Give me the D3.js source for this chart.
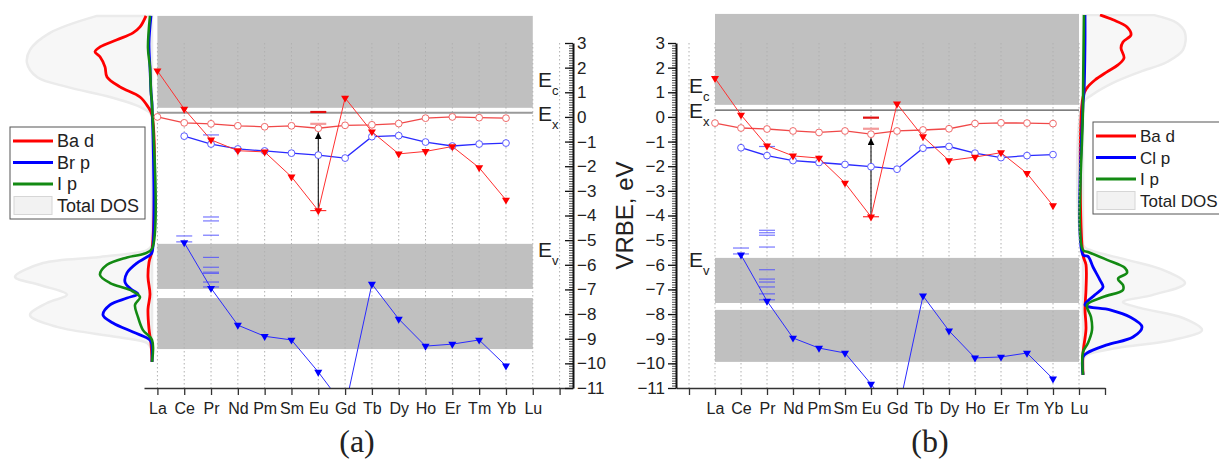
<!DOCTYPE html>
<html>
<head>
<meta charset="utf-8">
<script src="https://cdn.jsdelivr.net/npm/d3@7"></script>
<style>
  body { margin: 0; background: #fff; }
  svg { font-family: Arial, "Liberation Sans", sans-serif; }
</style>
</head>
<body>
<svg id="chart" width="1219" height="462"></svg>
<script>
// ---- data ----
const lanthanides = ['La','Ce','Pr','Nd','Pm','Sm','Eu','Gd','Tb','Dy','Ho','Er','Tm','Yb','Lu'];

// panel (a) BaBrI
const ln2_4f_a = [1.87, 0.32, -0.93, -1.37, -1.42, -2.43, -3.80, 0.77, -0.60, -1.50, -1.40, -1.20, -2.06, -3.37, null];
const ln3_4f_a = [null, -5.10, -6.95, -8.45, -8.90, -9.05, -10.35, -11.8, -6.78, -8.20, -9.30, -9.22, -9.05, -10.10, null];
const ln2_5d_a = [0.00, -0.24, -0.28, -0.36, -0.40, -0.36, -0.46, -0.34, -0.32, -0.27, -0.05, 0.00, -0.03, -0.05, null];
const ln3_5d_a = [null, -0.78, -1.10, -1.30, -1.38, -1.47, -1.55, -1.67, -0.80, -0.76, -1.02, -1.18, -1.10, -1.06, null];
const ceLevels_a = [-4.83, -5.07];
const prLevels_a = [-0.73, -4.06, -4.22, -4.8, -5.7, -6.1, -6.3, -6.35, -6.7, -6.9];
const euLevels_a = { dark: 0.2, light: -0.28 };
const cband_a = [0.37, 4.1];
const vbands_a = [[-6.98, -5.15], [-9.42, -7.35]];
const exciton_a = 0.17;

// panel (b) BaClI
const ln2_4f_b = [1.57, 0.08, -1.17, -1.58, -1.67, -2.68, -4.05, 0.53, -0.80, -1.77, -1.63, -1.45, -2.29, -3.60, null];
const ln3_4f_b = [null, -5.60, -7.47, -8.97, -9.38, -9.58, -10.84, -12.2, -7.26, -8.68, -9.78, -9.74, -9.58, -10.63, null];
const ln2_5d_b = [-0.25, -0.45, -0.49, -0.57, -0.63, -0.57, -0.70, -0.57, -0.53, -0.48, -0.27, -0.24, -0.25, -0.27, null];
const ln3_5d_b = [null, -1.25, -1.57, -1.77, -1.85, -1.93, -2.02, -2.12, -1.27, -1.20, -1.47, -1.65, -1.57, -1.53, null];
const ceLevels_b = [-5.32, -5.56];
const prLevels_b = [-1.2, -4.6, -4.7, -4.8, -5.28, -6.2, -6.58, -6.7, -6.9, -7.18, -7.42];
const euLevels_b = { dark: -0.03, light: -0.48 };
const cband_b = [0.49, 4.18];
const vbands_b = [[-7.55, -5.72], [-9.94, -7.83]];
const exciton_b = 0.28;

// DOS [energy eV, density a.u.]
const dosBa_a = [[4.1,6],[3.65,12],[3.41,19],[3.13,35],[2.84,52],[2.64,57],[2.44,52],[2.03,47],[1.62,45],[1.22,32],[0.81,12],[0.41,4],[0.08,0],[-5.4,0],[-5.9,3],[-6.5,4],[-7.2,2],[-7.8,4],[-8.6,3],[-9.2,1],[-9.94,0]];
const dosX_a = [[4.1,1],[3.0,3],[2.0,2],[1.0,1],[0.5,0],[-5.5,0],[-5.6,2],[-5.93,15],[-6.33,25],[-6.7,27],[-7.02,20],[-7.18,14],[-7.35,25],[-7.63,42],[-8.04,49],[-8.36,39],[-8.73,19],[-9.05,2],[-9.25,0],[-9.94,0]];
const dosI_a = [[4.1,2],[2.8,4],[2.0,2],[1.0,1],[0.5,0],[-5.35,0],[-5.55,8],[-5.7,25],[-6.0,45],[-6.41,52],[-6.74,42],[-7.02,22],[-7.31,12],[-7.63,17],[-8.12,14],[-8.65,9],[-9.05,0],[-9.94,0]];
const dosTot_a = [[4.1,55],[3.41,102],[2.72,122],[2.19,125],[1.62,115],[1.22,85],[0.81,42],[0.41,12],[0.16,2],[0.0,0],[-5.2,0],[-5.40,5],[-5.68,52],[-5.93,109],[-6.49,137],[-6.82,112],[-7.22,85],[-7.55,105],[-8.04,122],[-8.52,95],[-8.93,35],[-9.17,5],[-9.46,0]];

const dosBa_b = [[4.14,17],[3.94,30],[3.65,44],[3.33,48],[3.04,40],[2.80,38],[2.39,41],[2.11,35],[1.83,24],[1.50,12],[1.18,4],[0.81,0],[-5.6,0],[-6.0,3],[-7.0,3],[-7.8,2],[-8.6,3],[-9.6,0],[-10.47,0]];
const dosX_b = [[4.14,2],[3.0,2],[1.0,1],[0.5,0],[-5.6,0],[-5.66,5],[-6.09,10],[-6.62,17],[-6.90,20],[-7.22,12],[-7.63,2],[-7.83,27],[-8.12,47],[-8.52,59],[-8.93,50],[-9.25,24],[-9.58,4],[-9.74,0],[-10.47,0]];
const dosI_b = [[4.14,1],[0.5,0],[-5.4,0],[-5.48,5],[-5.8,24],[-6.13,42],[-6.33,44],[-6.57,35],[-6.82,40],[-7.02,40],[-7.31,20],[-7.63,4],[-8.12,8],[-8.65,9],[-9.17,5],[-9.54,0],[-10.47,0]];
const dosTot_b = [[4.14,70],[3.81,94],[3.41,102],[2.72,100],[2.23,84],[1.83,57],[1.38,30],[0.89,9],[0.57,0],[-5.2,0],[-5.40,7],[-5.80,44],[-6.21,80],[-6.74,102],[-7.22,70],[-7.51,40],[-7.75,57],[-8.16,100],[-8.65,119],[-9.05,90],[-9.38,34],[-9.66,4],[-9.86,0]];

const legendA = ['Ba d', 'Br p', 'I p', 'Total DOS'];
const legendB = ['Ba d', 'Cl p', 'I p', 'Total DOS'];
const dosColors = ['#ff0000', '#0000ff', '#138a13'];

// ---- drawing ----
const svg = d3.select('#chart');
const yScale = d3.scaleLinear().domain([-11, 3]).range([388, 43]);
const majorTicks = d3.range(-11, 4);
const minorTicks = d3.range(-110, 31).map(v => v / 10);

const defs = svg.append('defs');
defs.append('marker')
    .attr('id', 'arrow')
    .attr('viewBox', '0 0 10 10')
    .attr('refX', 10).attr('refY', 5)
    .attr('markerWidth', 7).attr('markerHeight', 7)
    .attr('markerUnits', 'userSpaceOnUse')
    .attr('orient', 'auto')
  .append('path')
    .attr('d', 'M0,0 L10,5 L0,10 z')
    .attr('fill', '#000');

const vrbePanel = (g, p) => {
  const x = p.x;
  const clipId = 'clip-' + p.id;
  defs.append('clipPath').attr('id', clipId)
    .append('rect')
      .attr('x', x.range()[0]).attr('y', 0)
      .attr('width', x.range()[1] - x.range()[0]).attr('height', yScale(-11));

  // bands
  const bandG = g.append('g');
  bandG.append('rect')
      .attr('x', x(0)).attr('width', x(14) - x(0))
      .attr('y', yScale(p.cband[1])).attr('height', yScale(p.cband[0]) - yScale(p.cband[1]))
      .attr('fill', '#c0c0c0');
  bandG.selectAll('.vb').data(p.vbands).enter().append('rect')
      .attr('x', x(0)).attr('width', x(14) - x(0))
      .attr('y', d => yScale(d[1])).attr('height', d => yScale(d[0]) - yScale(d[1]))
      .attr('fill', '#c0c0c0');

  // dotted grid
  g.selectAll('.grid').data(p.gridTicks).enter().append('line')
      .attr('x1', d => x(d)).attr('x2', d => x(d))
      .attr('y1', yScale(3)).attr('y2', yScale(-11))
      .attr('stroke', '#b0b0b0').attr('stroke-width', 1)
      .attr('stroke-dasharray', '1.5,2.5');

  // exciton line
  g.append('line')
      .attr('x1', x(0)).attr('x2', x(14))
      .attr('y1', yScale(p.exciton)).attr('y2', yScale(p.exciton))
      .attr('stroke', p.excitonColor).attr('stroke-width', p.excitonWidth);

  const plot = g.append('g').attr('clip-path', `url(#${clipId})`);

  const toPts = arr => arr.map((v, i) => ({ i, v })).filter(d => d.v !== null);
  const lineGen = d3.line().x(d => x(d.i)).y(d => yScale(d.v));

  // level dashes
  const dash = (vals, idx, color, width, op) => {
    plot.selectAll(null).data(vals).enter().append('line')
        .attr('x1', x(idx) - 8).attr('x2', x(idx) + 8)
        .attr('y1', d => yScale(d)).attr('y2', d => yScale(d))
        .attr('stroke', color).attr('stroke-width', width).attr('opacity', op);
  };
  dash(p.ceLevels, 1, '#4a4aff', 1.2, 0.75);
  dash(p.prLevels, 2, '#4a4aff', 1.2, 0.75);
  dash([p.euLevels.dark], 6, '#e01010', 2.2, 1);
  dash([p.euLevels.light], 6, '#f49a9a', 2.2, 1);
  dash([p.ln2_4f[6]], 6, '#ff3030', 1.2, 1);

  // arrow Eu
  plot.append('line')
      .attr('x1', x(6)).attr('x2', x(6))
      .attr('y1', yScale(p.ln2_4f[6])).attr('y2', yScale(p.ln2_5d[6]) + 4)
      .attr('stroke', '#000').attr('stroke-width', 1)
      .attr('marker-end', 'url(#arrow)');

  const series = [
    { data: p.ln2_5d, color: '#f04848', width: 1.3, marker: 'circle', mcolor: '#f06a6a' },
    { data: p.ln3_5d, color: '#2a2aff', width: 1.3, marker: 'circle', mcolor: '#5a5aff' },
    { data: p.ln2_4f, color: '#ff3030', width: 1, marker: 'tri', mcolor: '#ff0000' },
    { data: p.ln3_4f, color: '#2a2aff', width: 1, marker: 'tri', mcolor: '#0000ff' }
  ];
  const tri = d3.symbol().type(d3.symbolTriangle).size(28);
  series.forEach(s => {
    const pts = toPts(s.data);
    plot.append('path')
        .attr('d', lineGen(pts))
        .attr('fill', 'none').attr('stroke', s.color).attr('stroke-width', s.width);
    if (s.marker === 'circle') {
      plot.selectAll(null).data(pts).enter().append('circle')
          .attr('cx', d => x(d.i)).attr('cy', d => yScale(d.v)).attr('r', 3.4)
          .attr('fill', '#fff').attr('stroke', s.mcolor).attr('stroke-width', 1);
    } else {
      plot.selectAll(null).data(pts).enter().append('path')
          .attr('d', tri)
          .attr('transform', d => `translate(${x(d.i)},${yScale(d.v)}) rotate(180)`)
          .attr('fill', s.mcolor);
    }
  });

  // x axis
  const xAxis = d3.axisBottom(x)
    .tickValues(p.xTicks)
    .tickFormat(i => lanthanides[i] || '')
    .tickSize(7).tickSizeOuter(0).tickPadding(8);
  const xg = g.append('g').attr('transform', `translate(0,${yScale(-11)})`).call(xAxis);
  xg.attr('font-family', null);
  xg.select('.domain').attr('stroke', '#333').attr('stroke-width', 1.5);
  xg.selectAll('.tick line').attr('stroke', '#333').attr('stroke-width', 1.3);
  xg.selectAll('text').attr('font-size', 16).attr('fill', '#222');

  // y axis
  const yx = p.yAxisRight ? x.range()[1] : x.range()[0];
  const mk = p.yAxisRight ? d3.axisRight : d3.axisLeft;
  const ySize = p.yAxisRight ? -8 : 8;
  const yMinor = mk(yScale).tickValues(minorTicks).tickFormat('').tickSize(ySize / 2).tickSizeOuter(0);
  const yMajor = mk(yScale).tickValues(majorTicks).tickSize(ySize).tickSizeOuter(0).tickPadding(p.yAxisRight ? 4 : 3);
  const ymg = g.append('g').attr('transform', `translate(${yx},0)`).call(yMinor);
  ymg.selectAll('.tick line').attr('stroke', '#222').attr('stroke-width', 0.8);
  ymg.select('.domain').remove();
  const yg = g.append('g').attr('transform', `translate(${yx},0)`).call(yMajor);
  yg.attr('font-family', null);
  yg.select('.domain').attr('stroke', '#111').attr('stroke-width', 2);
  yg.selectAll('.tick line').attr('stroke', '#111').attr('stroke-width', 1.3);
  yg.selectAll('text').attr('font-size', 17).attr('fill', '#222');

  // E labels
  p.eLabels.forEach(l => {
    const t = g.append('text').attr('x', p.eLabelX).attr('y', yScale(l.v))
        .attr('font-size', 21).attr('fill', '#222').text('E');
    t.append('tspan').attr('dy', 8).attr('font-size', 13).text(l.sub);
  });

  g.append('text')
      .attr('x', p.tagX).attr('y', 452)
      .attr('text-anchor', 'middle')
      .style('font-family', '"Liberation Serif", "Times New Roman", serif')
      .attr('font-size', 32).attr('fill', '#222')
      .text(p.tag);
};

const dosPanel = (g, p) => {
  const dx = p.dx;
  const clipId = 'dosclip-' + p.id;
  defs.append('clipPath').attr('id', clipId)
    .append('rect').attr('x', 0).attr('y', 14).attr('width', 1219).attr('height', 400);
  const dg = g.append('g').attr('clip-path', `url(#${clipId})`);
  const area = d3.area()
    .y(d => yScale(d[0])).x0(dx(0)).x1(d => dx(d[1]))
    .curve(d3.curveCatmullRom.alpha(0.5));
  dg.append('path').datum(p.total).attr('d', area)
      .attr('fill', '#f7f7f7').attr('stroke', '#ebebeb').attr('stroke-width', 2.5);
  const line = d3.line()
    .y(d => yScale(d[0])).x(d => dx(d[1]))
    .curve(d3.curveCatmullRom.alpha(0.5));
  p.curves.forEach((c, k) => {
    dg.append('path').datum(c).attr('d', line)
        .attr('fill', 'none').attr('stroke', dosColors[k]).attr('stroke-width', k === 2 ? 2.6 : 2.8);
  });

  // legend
  const lg = g.append('g').attr('transform', `translate(${p.legend.x},${p.legend.y})`);
  lg.append('rect').attr('width', p.legend.w).attr('height', 92)
      .attr('fill', '#fff').attr('stroke', '#555').attr('stroke-width', 1);
  p.labels.forEach((lab, k) => {
    const cy = 14 + k * 21.5;
    if (k < 3) {
      lg.append('line').attr('x1', 3).attr('x2', 43).attr('y1', cy).attr('y2', cy)
          .attr('stroke', dosColors[k]).attr('stroke-width', 3);
    } else {
      lg.append('rect').attr('x', 4).attr('y', cy - 9).attr('width', 38).attr('height', 18)
          .attr('fill', '#f2f2f2').attr('stroke', '#d6d6d6');
    }
    lg.append('text').attr('x', 47).attr('y', cy + 6)
        .attr('font-size', p.legend.fs).attr('fill', '#222').text(lab);
  });
};

const xA = d3.scaleLinear().domain([-0.5, 15.5]).range([144, 573]);
const xB = d3.scaleLinear().domain([-1.5, 15]).range([676, 1105]);

dosPanel(svg.append('g'), {
  id: 'a', dx: d3.scaleLinear().domain([0, 140]).range([152, 12]),
  total: dosTot_a, curves: [dosBa_a, dosX_a, dosI_a], labels: legendA,
  legend: { x: 10, y: 127, w: 135, fs: 18 }
});
dosPanel(svg.append('g'), {
  id: 'b', dx: d3.scaleLinear().domain([0, 140]).range([1083, 1223]),
  total: dosTot_b, curves: [dosBa_b, dosX_b, dosI_b], labels: legendB,
  legend: { x: 1093, y: 122, w: 140, fs: 17 }
});

vrbePanel(svg.append('g'), {
  id: 'a', x: xA, yAxisRight: true,
  ln2_4f: ln2_4f_a, ln3_4f: ln3_4f_a, ln2_5d: ln2_5d_a, ln3_5d: ln3_5d_a,
  ceLevels: ceLevels_a, prLevels: prLevels_a, euLevels: euLevels_a,
  cband: cband_a, vbands: vbands_a, exciton: exciton_a,
  excitonColor: '#9a9a9a', excitonWidth: 2,
  gridTicks: d3.range(0, 16), xTicks: d3.range(0, 16),
  eLabelX: 538, eLabels: [{ v: 1.22, sub: 'c' }, { v: -0.16, sub: 'x' }, { v: -5.68, sub: 'v' }],
  tag: '(a)', tagX: 357
});
vrbePanel(svg.append('g'), {
  id: 'b', x: xB, yAxisRight: false,
  ln2_4f: ln2_4f_b, ln3_4f: ln3_4f_b, ln2_5d: ln2_5d_b, ln3_5d: ln3_5d_b,
  ceLevels: ceLevels_b, prLevels: prLevels_b, euLevels: euLevels_b,
  cband: cband_b, vbands: vbands_b, exciton: exciton_b,
  excitonColor: '#555', excitonWidth: 1.3,
  gridTicks: d3.range(-1, 15), xTicks: d3.range(-1, 16),
  eLabelX: 689, eLabels: [{ v: 0.97, sub: 'c' }, { v: -0.04, sub: 'x' }, { v: -6.09, sub: 'v' }],
  tag: '(b)', tagX: 930
});

// y axis title
svg.append('text')
    .attr('transform', `translate(633,${yScale(-4)}) rotate(-90)`)
    .attr('text-anchor', 'middle')
    .attr('font-size', 24).attr('fill', '#222')
    .text('VRBE, eV');
</script>
</body>
</html>
